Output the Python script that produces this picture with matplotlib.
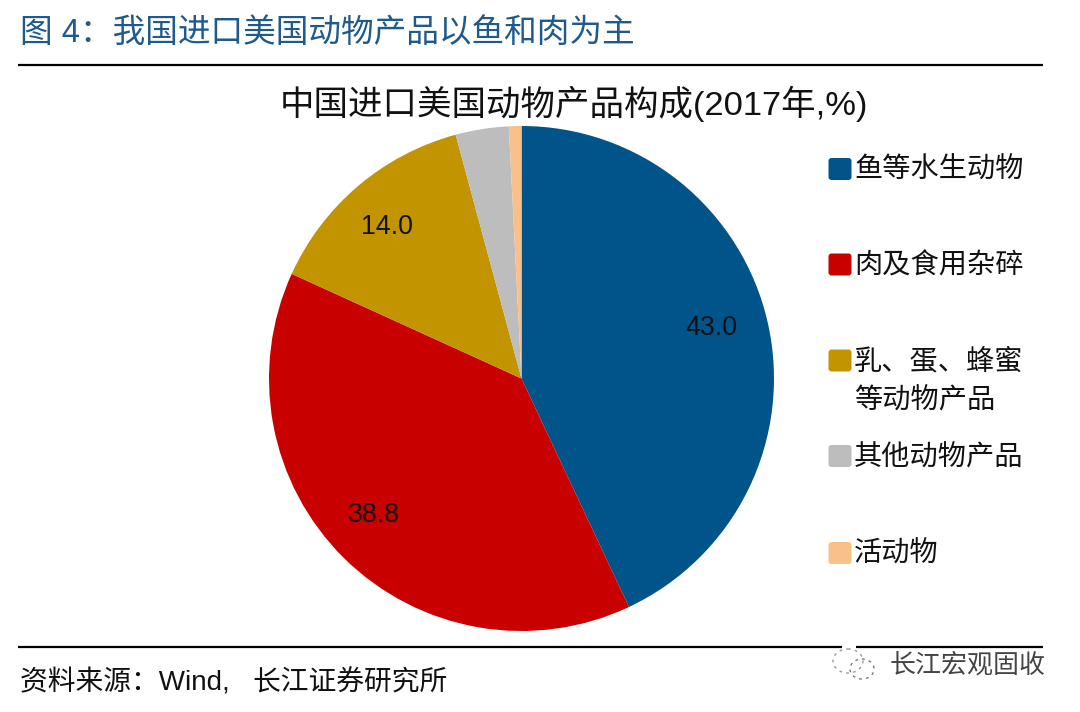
import matplotlib
matplotlib.use("Agg")
import matplotlib.pyplot as plt
from matplotlib.patches import Ellipse, FancyBboxPatch

plt.rcParams["font.family"] = ["Liberation Sans", "Noto Sans CJK SC"]

heading = "图 4：我国进口美国动物产品以鱼和肉为主"
chart_title = "中国进口美国动物产品构成(2017年,%)"
source = "资料来源：Wind,   长江证券研究所"
watermark = "长江宏观固收"

categories = ["鱼等水生动物", "肉及食用杂碎", "乳、蛋、蜂蜜\n等动物产品", "其他动物产品", "活动物"]
values = [43.0, 38.8, 14.0, 3.4, 0.8]
colors = ["#01548A", "#C80000", "#C29400", "#BDBDBD", "#F9C08A"]
legend_y = [169, 264.5, 360.5, 456, 553]
label_shift = [(-5, -7), (-7, -5), (-5, 1)]  # pixels, from where pie puts the labels

W, H = 1080, 712
fig = plt.figure(figsize=(W / 100, H / 100), dpi=100)

# page layer in pixel coords, y going down
bg = fig.add_axes([0, 0, 1, 1])
bg.set_xlim(0, W)
bg.set_ylim(H, 0)
bg.axis("off")

bg.text(20, 33.5, heading, fontsize=23.5, color="#1F5A8C", va="center", ha="left")
bg.plot([18, 1043], [65, 65], color="black", lw=1.6, solid_capstyle="butt")
bg.plot([18, 842], [647, 647], color="black", lw=1.6, solid_capstyle="butt")
bg.plot([856, 1043], [647, 647], color="black", lw=1.6, solid_capstyle="butt")
bg.text(573.5, 104, chart_title, fontsize=24.8, color="#111111", va="center", ha="center")
bg.text(20, 683, source, fontsize=20, color="#111111", va="center", ha="left")

for name, col, y in zip(categories, colors, legend_y):
    bg.add_patch(FancyBboxPatch((831, y - 8.5), 18, 17, boxstyle="round,pad=2.5,rounding_size=3",
                                facecolor=col, edgecolor="none"))
    # first line of the label sits next to the swatch
    lines = name.split("\n")
    bg.text(854, y + 2, lines[0], fontsize=20.3, color="#111111", va="center", ha="left")
    if len(lines) > 1:
        bg.text(854, y + 41, lines[1], fontsize=20.3, color="#111111", va="center", ha="left")

# wechat style mark and name
bg.add_patch(Ellipse((848, 661), 30, 24, fill=False, ec="#999999", lw=1.0, ls=(0, (2, 3))))
bg.add_patch(Ellipse((862, 669), 24, 20, fill=False, ec="#777777", lw=1.0, ls=(0, (2, 3))))
bg.text(890, 665, watermark, fontsize=18.7, color="#444444", va="center", ha="left")

# pie
cx, cy, r = 521.5, 378.5, 252.5
ax = fig.add_axes([(cx - r) / W, 1 - (cy + r) / H, 2 * r / W, 2 * r / H])
wedges, texts, autotexts = ax.pie(
    values,
    colors=colors,
    startangle=90,
    counterclock=False,
    autopct=lambda p: f"{p:.1f}" if p > 5 else "",
    pctdistance=0.79,
    textprops={"fontsize": 19.3, "color": "#111111"},
)
ax.set_xlim(-1, 1)
ax.set_ylim(-1, 1)

for t, (dx, dy) in zip(autotexts, label_shift):
    x, y = t.get_position()
    t.set_position((x + dx / r, y - dy / r))

fig.savefig("out.png", dpi=100)
